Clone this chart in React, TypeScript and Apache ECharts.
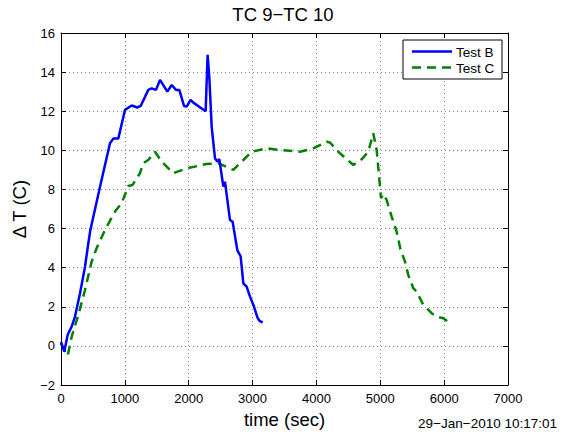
import React, { useEffect, useRef } from "react";
import * as echarts from "echarts";

const testBTime = [0, 52, 104, 167, 219, 298, 376, 428, 460, 611, 767, 819, 897, 1002, 1107, 1195, 1248, 1367, 1420, 1488, 1550, 1665, 1733, 1801, 1853, 1926, 1968, 2030, 2072, 2265, 2296, 2322, 2360, 2411, 2448, 2479, 2542, 2568, 2646, 2688, 2709, 2761, 2814, 2855, 2907, 2960, 3022, 3074, 3105, 3158];
const testBDelta = [0.2, -0.29, 0.56, 0.99, 1.5, 2.69, 4.05, 5.25, 5.93, 8.14, 10.36, 10.6, 10.6, 12.07, 12.29, 12.19, 12.27, 13.09, 13.17, 13.09, 13.6, 13.0, 13.34, 13.09, 13.09, 12.27, 12.24, 12.58, 12.44, 12.0, 14.88, 13.77, 11.2, 9.6, 9.43, 9.55, 8.15, 8.4, 6.44, 6.35, 5.93, 4.9, 4.57, 3.2, 3.03, 2.52, 2.01, 1.47, 1.29, 1.19];

const testCTime = [0, 104, 167, 271, 376, 480, 558, 689, 846, 950, 1054, 1121, 1237, 1289, 1367, 1472, 1577, 1655, 1759, 1968, 2281, 2463, 2698, 2829, 2986, 3221, 3429, 3743, 3951, 4160, 4212, 4342, 4577, 4708, 4812, 4890, 4943, 4984, 5011, 5047, 5100, 5178, 5256, 5319, 5387, 5438, 5517, 5569, 5673, 5804, 5882, 5986, 6065];
const testCDelta = [0.1, -0.51, 0.47, 1.58, 2.86, 4.31, 5.0, 5.93, 6.87, 7.3, 8.18, 8.23, 8.83, 9.34, 9.51, 9.93, 9.42, 9.17, 8.83, 9.08, 9.3, 9.34, 9.0, 9.42, 9.93, 10.1, 10.02, 9.93, 10.1, 10.44, 10.4, 9.93, 9.25, 9.54, 9.93, 10.87, 10.02, 8.57, 7.55, 7.77, 7.46, 6.61, 5.84, 4.9, 4.31, 3.63, 2.95, 2.78, 2.1, 1.67, 1.5, 1.41, 1.24];

const seriesNames = ["Test B", "Test C"];
const titleText = "TC 9\u2212TC 10";
const xAxisName = "time (sec)";
const yAxisName = "\u0394 T (C)";
const timestamp = "29\u2212Jan\u22122010 10:17:01";

const FONT = "'Liberation Sans', Arial, Helvetica, sans-serif";

export default function App() {
  const ref = useRef<HTMLDivElement>(null);
  useEffect(() => {
    if (!ref.current) return;
    const chart = echarts.init(ref.current, null, { renderer: "svg" });
    const fmt = (v: number) => String(v).replace("-", "\u2212");
    const splitLine = { show: true, lineStyle: { color: "#8a8a8a", type: [1, 3] as any, width: 1 } };
    const axisLine = { show: true, onZero: false, lineStyle: { color: "#000", width: 1 } };
    const tick = { show: true, inside: true, length: 5, lineStyle: { color: "#000" } };
    chart.setOption({
      animation: false,
      backgroundColor: "#fff",
      textStyle: { fontFamily: FONT },
      title: {
        text: titleText,
        left: "center",
        top: 0,
        padding: 5,
        textStyle: { fontFamily: FONT, fontSize: 18.5, fontWeight: "normal", color: "#000" },
      },
      grid: { left: 61, top: 33, right: 58, bottom: 49, containLabel: false },
      xAxis: [
        {
          type: "value",
          min: 0,
          max: 7000,
          interval: 1000,
          name: xAxisName,
          nameLocation: "middle",
          nameGap: 21,
          nameTextStyle: { fontFamily: FONT, fontSize: 18.5, color: "#000" },
          axisLine,
          axisTick: tick,
          axisLabel: { color: "#000", fontSize: 13, fontFamily: FONT, margin: 7, formatter: fmt },
          splitLine,
        },
        {
          type: "value",
          position: "top",
          min: 0,
          max: 7000,
          interval: 1000,
          axisLine,
          axisTick: tick,
          axisLabel: { show: false },
          splitLine: { show: false },
        },
      ],
      yAxis: [
        {
          type: "value",
          min: -2,
          max: 16,
          interval: 2,
          name: yAxisName,
          nameLocation: "middle",
          nameGap: 28,
          nameRotate: 90,
          nameTextStyle: { fontFamily: FONT, fontSize: 18.5, color: "#000" },
          axisLine,
          axisTick: tick,
          axisLabel: { color: "#000", fontSize: 13, fontFamily: FONT, margin: 6, formatter: fmt },
          splitLine,
        },
        {
          type: "value",
          position: "right",
          min: -2,
          max: 16,
          interval: 2,
          axisLine,
          axisTick: tick,
          axisLabel: { show: false },
          splitLine: { show: false },
        },
      ],
      series: [
        {
          name: seriesNames[0],
          type: "line",
          data: testBTime.map((t, i) => [t, testBDelta[i]]),
          showSymbol: false,
          lineStyle: { color: "#0000ff", width: 2.5 },
          itemStyle: { color: "#0000ff" },
          z: 3,
        },
        {
          name: seriesNames[1],
          type: "line",
          data: testCTime.map((t, i) => [t, testCDelta[i]]),
          showSymbol: false,
          lineStyle: { color: "#008000", width: 2.5, type: [9, 6] as any },
          itemStyle: { color: "#008000" },
          z: 2,
        },
      ],
      graphic: [
        {
          type: "rect",
          shape: { x: 403, y: 40, width: 99, height: 39 },
          style: { fill: "#fff", stroke: "#000", lineWidth: 1 },
          z: 100,
        },
        {
          type: "line",
          shape: { x1: 412, y1: 51.5, x2: 452, y2: 51.5 },
          style: { stroke: "#0000ff", lineWidth: 2.5 },
          z: 101,
        },
        {
          type: "text",
          x: 456,
          y: 52,
          style: { text: seriesNames[0], fill: "#000", font: `13.5px ${FONT}`, verticalAlign: "middle" },
          z: 101,
        },
        {
          type: "line",
          shape: { x1: 412, y1: 67.5, x2: 452, y2: 67.5 },
          style: { stroke: "#008000", lineWidth: 2.5, lineDash: [9, 6] },
          z: 101,
        },
        {
          type: "text",
          x: 456,
          y: 68,
          style: { text: seriesNames[1], fill: "#000", font: `13.5px ${FONT}`, verticalAlign: "middle" },
          z: 101,
        },
        {
          type: "text",
          x: 557,
          y: 423,
          style: { text: timestamp, fill: "#000", font: `13.5px ${FONT}`, align: "right", verticalAlign: "middle" },
          z: 101,
        },
      ],
    });
    return () => chart.dispose();
  }, []);
  return <div ref={ref} style={{ width: 566, height: 434, position: "fixed", left: 0, top: 0 }} />;
}
